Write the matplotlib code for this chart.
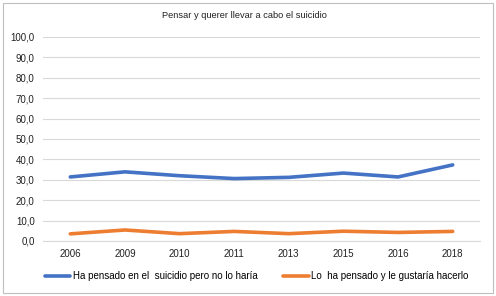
import matplotlib.pyplot as plt

plt.rcParams['font.family'] = ['Liberation Sans', 'DejaVu Sans']

years = ['2006', '2009', '2010', '2011', '2013', '2015', '2016', '2018']
pensado_no_haria = [31.4, 33.9, 32.0, 30.6, 31.2, 33.3, 31.4, 37.3]
pensado_gustaria = [3.5, 5.4, 3.6, 4.7, 3.6, 4.8, 4.2, 4.7]

fig = plt.figure(figsize=(4.96, 2.96), dpi=100)
ax = fig.add_axes([43 / 496, 1 - 241 / 296, 437 / 496, 204 / 296])

x = range(len(years))
ax.plot(x, pensado_no_haria, color='#4472C4', lw=2.6, solid_capstyle='round',
        label='Ha pensado en el  suicidio pero no lo haría')
ax.plot(x, pensado_gustaria, color='#ED7D31', lw=2.6, solid_capstyle='round',
        label='Lo  ha pensado y le gustaría hacerlo')

ax.set_xlim(-0.5, len(years) - 0.5)
ax.set_ylim(0, 100)
ax.set_yticks(range(0, 101, 10))
ax.set_yticklabels([f'{v},0' for v in range(0, 101, 10)])
ax.set_xticks(list(x))
ax.set_xticklabels(years)
ax.tick_params(length=0, labelsize=7, colors='#222222', pad=6)
ax.grid(axis='y', color='#d9d9d9', lw=0.8)
ax.set_axisbelow(True)
for s in ['top', 'right', 'left']:
    ax.spines[s].set_visible(False)
ax.spines['bottom'].set_color('#d9d9d9')

fig.text(0.493, 1 - 15 / 296, 'Pensar y querer llevar a cabo el suicidio',
         ha='center', va='center', fontsize=6.7, color='#222222')

fig.legend(loc='center', bbox_to_anchor=(0.518, 1 - 276 / 296), ncol=2,
           frameon=False, fontsize=7, handlelength=2.6, columnspacing=2.6,
           handletextpad=0.3)

fig.patches.append(plt.Rectangle((3 / 496, 3 / 296), 490 / 496, 290 / 296,
                                 transform=fig.transFigure, fill=False,
                                 edgecolor='#bfbfbf', lw=0.8))

fig.savefig('out.png', dpi=100)
